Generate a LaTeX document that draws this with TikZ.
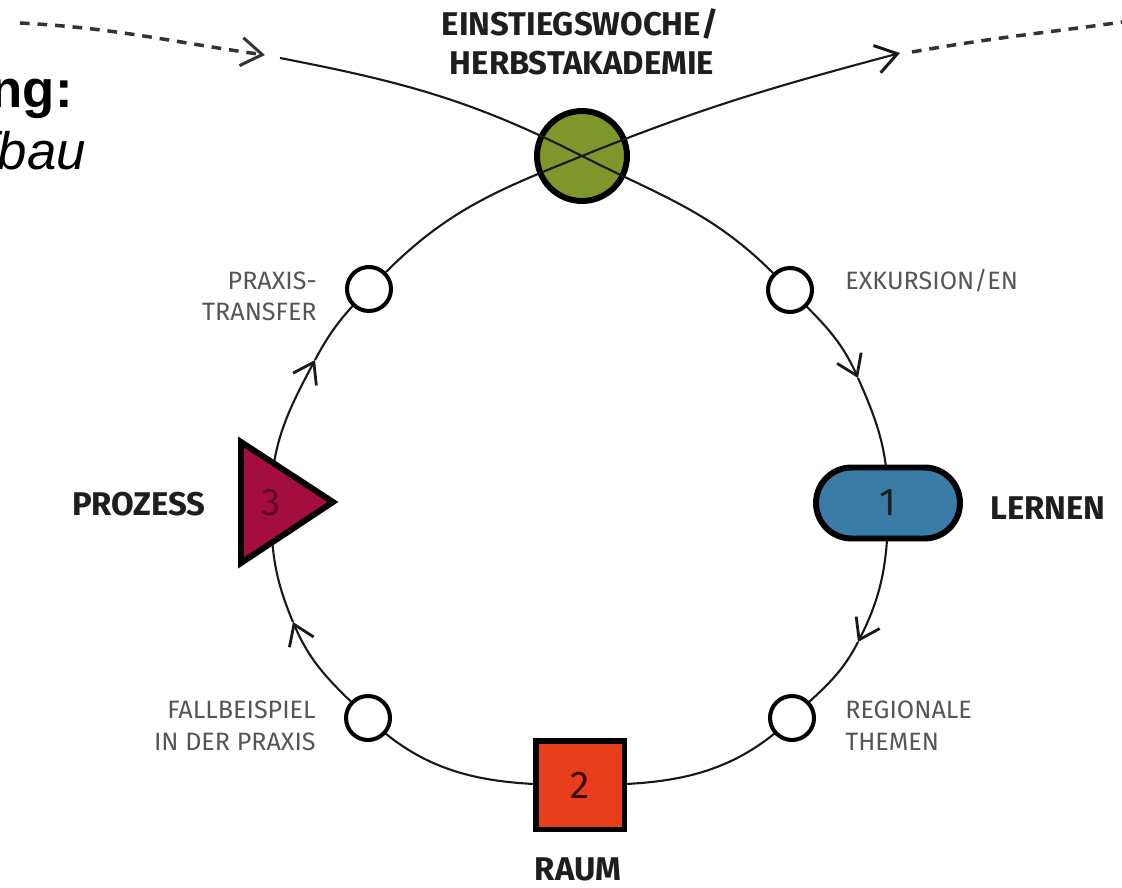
\documentclass[tikz,border=0pt]{standalone}
\usepackage{fontspec}
\setmainfont{Fira Sans}
\newfontfamily\arialfont{Liberation Sans}
\usetikzlibrary{arrows.meta}
\pgfdeclarelayer{bg}
\pgfsetlayers{bg,main}
\definecolor{cGreen}{RGB}{127,150,42}
\definecolor{cBlue}{RGB}{58,124,166}
\definecolor{cRed}{RGB}{232,62,28}
\definecolor{cCrim}{RGB}{163,14,62}
\definecolor{cGray}{RGB}{85,85,85}
\definecolor{cDark}{RGB}{30,30,30}
\definecolor{cNumTwo}{RGB}{60,10,5}
\definecolor{cNumThree}{RGB}{95,5,35}
\begin{document}
\begin{tikzpicture}[x=0.02cm,y=0.02cm,
  loopline/.style={line width=1.2pt, draw=black!90},
  dashline/.style={line width=2pt, draw=black!80, dash pattern=on 5.5pt off 4.5pt},
  barb/.style={-{Straight Barb[length=11pt,width=15pt,line width=1.6pt]}},
  bigbarb/.style={-{Straight Barb[length=12pt,width=16pt,line width=1.7pt]}},
  smallc/.style={circle, draw=black, line width=2.3pt, fill=white, minimum size=0.88cm, inner sep=0},
  bigc/.style={circle, draw=black, line width=3.4pt, fill=cGreen, minimum size=1.8cm, inner sep=0},
  pillbox/.style={rectangle, rounded corners=0.71cm, draw=black, line width=3.4pt, fill=cBlue, minimum width=2.88cm, minimum height=1.42cm, inner sep=0, text=cDark, font=\fontsize{22}{22}\selectfont},
  sqbox/.style={rectangle, draw=black, line width=3.4pt, fill=cRed, minimum size=1.78cm, inner sep=0, text=cNumTwo, font=\fontsize{22}{22}\selectfont},
  numtxt/.style={inner sep=0, text=cNumThree, font=\fontsize{22}{22}\selectfont},
  graylbl/.style={inner sep=0, text=cGray, font=\fontsize{14.3}{14.3}\selectfont},
  boldlbl/.style={inner sep=0, text=cDark, font=\bfseries\fontsize{18.7}{18.7}\selectfont}
]
\useasboundingbox (0,0) rectangle (1122,-888);
\clip (0,0) rectangle (1122,-888);

% top-left heading, cut by the picture's left edge
\node[inner sep=0, anchor=base east, font=\arialfont\bfseries\fontsize{30}{30}\selectfont] (hA) at (73,-108) {ng:};
\node[inner sep=0, anchor=base east, font=\arialfont\itshape\fontsize{30}{30}\selectfont] (hB) at (86,-170) {fbau};

% nodes
\node[bigc] (G) at (582,-156) {};
\node[smallc] (EXK) at (790,-290) {};
\node[smallc] (PRAX) at (369,-289) {};
\node[smallc] (FALL) at (368,-718) {};
\node[smallc] (REG) at (792,-718) {};
\node[pillbox] (L) at (888,-503) {1};
\node[sqbox] (R) at (580,-785) {2};
\filldraw[draw=black, fill=cCrim, line width=3.4pt, line join=miter] (241,-442) -- (333,-502) -- (241,-563) -- cycle;
\node[numtxt] (P) at (271,-503) {3};

% coordinates
\coordinate (a1) at (858,-378);
\coordinate (a2) at (858,-642);
\coordinate (a3) at (293,-622);
\coordinate (a4) at (315,-360);
\coordinate (Gin) at (280,-58);
\coordinate (Gout) at (900,-53);
\coordinate (Din) at (20,-23);
\coordinate (Dtip) at (265,-55);
\coordinate (Dout) at (912,-52);
\coordinate (Dend) at (1130,-21);

% loop (under the shapes)
\begin{pgfonlayer}{bg}
\draw[loopline,barb] (EXK.center) to[out=-45,in=114] (a1);
\draw[loopline] (a1) to[out=-66,in=90] (L.center);
\draw[loopline,barb] (L.center) to[out=-90,in=63] (a2);
\draw[loopline] (a2) to[out=-117,in=44] (REG.center);
\draw[loopline] (REG.center) to[out=-136,in=0] (R.center);
\draw[loopline] (R.center) to[out=180,in=-44] (FALL.center);
\draw[loopline,barb] (FALL.center) to[out=136,in=-67] (a3);
\draw[loopline] (a3) to[out=113,in=-90] (P.center);
\draw[loopline,barb] (P.center) to[out=90,in=-118] (a4);
\draw[loopline] (a4) to[out=62,in=-135] (PRAX.center);
\end{pgfonlayer}

% lines crossing the green circle
\draw[loopline] (Gin) to[out=-11,in=153] (G.center);
\draw[loopline] (G.center) to[out=-27,in=135] (EXK);
\draw[loopline] (PRAX) to[out=45,in=-158] (G.center);
\draw[loopline,bigbarb] (G.center) to[out=22,in=-165] (Gout);
\draw[dashline,bigbarb] (Din) to[out=-3,in=172] (Dtip);
\draw[dashline] (Dout) to[out=10,in=-172] (Dend);

% labels
\node[boldlbl, anchor=base] (t1) at (580,-36) {EINSTIEGSWOCHE/};
\node[boldlbl, anchor=base] (t2) at (582,-75) {HERBSTAKADEMIE};
\node[boldlbl, anchor=base east] (tP) at (206,-515) {PROZESS};
\node[boldlbl, anchor=base west] (tL) at (990,-519) {LERNEN};
\node[boldlbl, anchor=base] (tR) at (578,-880) {RAUM};
\node[graylbl, anchor=base east] (g1) at (317,-290) {PRAXIS-};
\node[graylbl, anchor=base east] (g2) at (317,-321) {TRANSFER};
\node[graylbl, anchor=base west] (g3) at (845,-290) {EXKURSION/EN};
\node[graylbl, anchor=base west] (g4) at (845,-718) {REGIONALE};
\node[graylbl, anchor=base west] (g5) at (845,-750) {THEMEN};
\node[graylbl, anchor=base east] (g6) at (316,-718) {FALLBEISPIEL};
\node[graylbl, anchor=base east] (g7) at (316,-750) {IN DER PRAXIS};
\end{tikzpicture}
\end{document}
